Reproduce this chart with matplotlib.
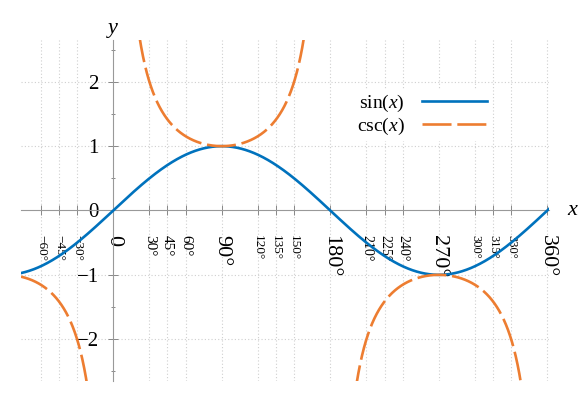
import numpy as np
import matplotlib
matplotlib.use("Agg")
import matplotlib.pyplot as plt

# domain and limits (degrees)
X_RANGE = [-76.5, 361.4]
Y_RANGE = [-2.65, 2.65]

# x ticks and their labels / label sizes
x_ticks = [-60, -45, -30, 0, 30, 45, 60, 90, 120, 135, 150, 180,
           210, 225, 240, 270, 300, 315, 330, 360]
x_labels = ["−60°", "−45°", "−30°", "0", "30°", "45°", "60°", "90°",
            "120°", "135°", "150°", "180°", "210°", "225°", "240°",
            "270°", "300°", "315°", "330°", "360°"]
x_label_sizes = [9.5, 9.5, 9.5, 16, 11, 11, 11, 16, 9.5, 9.5, 9.5, 16,
                 10, 10, 10, 16, 9, 9, 9, 16]

y_ticks = [-2, -1, 0, 1, 2]
y_labels = ["−2", "−1", "0", "1", "2"]
y_minor = [-2.5, -1.5, -0.5, 0.5, 1.5, 2.5]

series_names = [r"$\mathrm{sin}(x)$", r"$\mathrm{csc}(x)$"]
series_colors = ["#0072bd", "#ed7d31"]

plt.rcParams["font.family"] = ["Liberation Serif", "DejaVu Serif"]
plt.rcParams["mathtext.fontset"] = "custom"
plt.rcParams["mathtext.rm"] = "Liberation Serif"
plt.rcParams["mathtext.it"] = "Liberation Serif:italic"

fig = plt.figure(figsize=(5.84, 3.93), dpi=100)
W, H = 584, 393
ax = fig.add_axes([21 / W, (H - 381) / H, (549 - 21) / W, (381 - 40) / H])

x = np.linspace(X_RANGE[0], X_RANGE[1], 4000)
s = np.sin(np.radians(x))
csc = 1 / s
csc[np.abs(s) < 0.05] = np.nan

ax.plot(x, s, color=series_colors[0], lw=1.9, label=series_names[0], zorder=3)
ax.plot(x, csc, color=series_colors[1], lw=1.9, dashes=(11, 2.2),
        dash_capstyle="butt", label=series_names[1], zorder=4)

ax.set_xlim(*X_RANGE)
ax.set_ylim(*Y_RANGE)

# axes through the origin
for side in ["top", "right"]:
    ax.spines[side].set_visible(False)
ax.spines["left"].set_position(("data", 0))
ax.spines["bottom"].set_position(("data", 0))
for side in ["left", "bottom"]:
    ax.spines[side].set_color("#999999")
    ax.spines[side].set_linewidth(0.8)

ax.set_xticks(x_ticks)
ax.set_xticklabels(x_labels, rotation=-90, ha="center", va="top")
for lab, fs in zip(ax.get_xticklabels(), x_label_sizes):
    lab.set_fontsize(fs)
ax.set_yticks(y_ticks)
ax.set_yticklabels(y_labels, fontsize=15)
ax.set_yticks(y_minor, minor=True)

ax.tick_params(axis="x", direction="inout", length=7, width=0.7,
               color="#888888", pad=14)
ax.tick_params(axis="y", which="major", direction="inout", length=7,
               width=0.7, color="#888888", pad=7)
ax.tick_params(axis="y", which="minor", direction="inout", length=3.5,
               width=0.7, color="#888888")

# dotted grid
for xt in x_ticks:
    if xt != 0:
        ax.axvline(xt, color="#cfcfcf", lw=0.8, ls=(0, (1, 2)), zorder=0)
for yt in y_ticks:
    if yt != 0:
        ax.axhline(yt, color="#cfcfcf", lw=0.8, ls=(0, (1, 2)), zorder=0)

ax.text(0, 1.0, "$y$", transform=ax.get_xaxis_transform(), fontsize=16,
        ha="center", va="bottom", clip_on=False)
ax.annotate("$x$", xy=(1.0, 0), xycoords=("axes fraction", "data"),
            xytext=(17, 0), textcoords="offset points", fontsize=16,
            ha="center", va="center")

leg = ax.legend(loc="upper right", bbox_to_anchor=(491 / W, 1 - 89 / H),
                bbox_transform=fig.transFigure, markerfirst=False,
                fontsize=14, handlelength=3.35, handletextpad=0.9,
                borderpad=0.2, labelspacing=0.1, borderaxespad=0,
                frameon=True, fancybox=False, framealpha=1)
leg.get_frame().set_edgecolor("none")
leg.get_frame().set_facecolor("white")
leg.set_zorder(5)

fig.savefig("out.png", dpi=100)
